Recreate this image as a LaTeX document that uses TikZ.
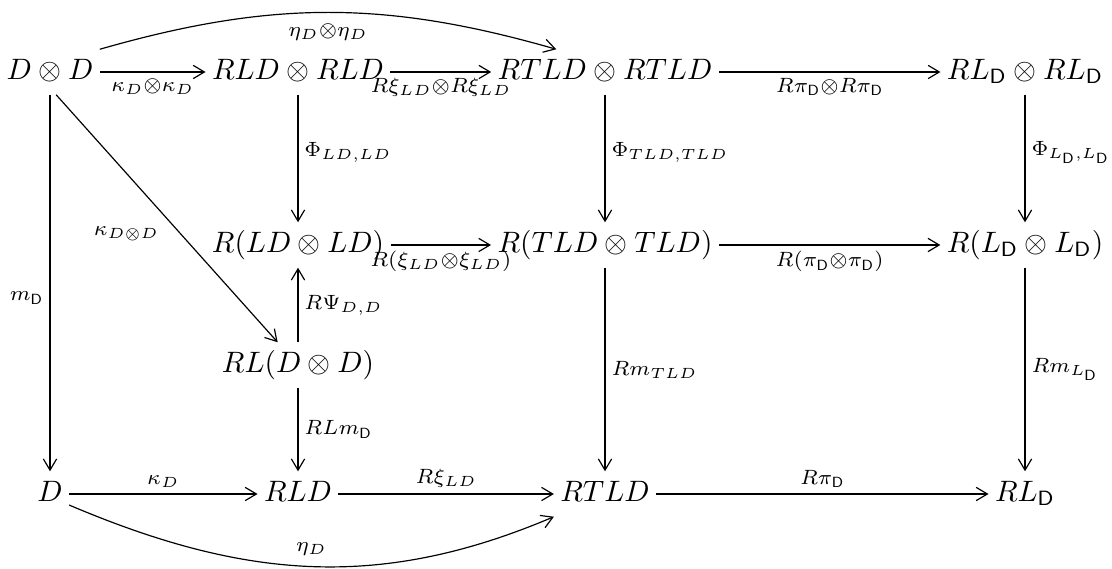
\documentclass[tikz,border=0pt]{standalone}
\usetikzlibrary{arrows.meta}
\newcommand\lbtx[1]{$\scriptstyle #1$}
\begin{document}
\begin{tikzpicture}[x=0.339pt,y=0.339pt,
  obj/.style={inner xsep=2pt,inner ysep=2.5pt,text height=7.5pt,text depth=2.5pt},
  arr/.style={line width=0.4pt,-{Straight Barb[length=3.8pt,width=4.5pt]}},
  lbl/.style={inner sep=2pt}]
\useasboundingbox (0,0) rectangle (1112,569);
% objects
\node[obj] (A)  at (50,497)   {$D\otimes D$};
\node[obj] (B)  at (298,497)  {$RLD\otimes RLD$};
\node[obj] (C)  at (605,497)  {$RTLD\otimes RTLD$};
\node[obj] (Dd) at (1025,497) {$RL_{\mathsf{D}}\otimes RL_{\mathsf{D}}$};
\node[obj] (E)  at (298,324)  {$R(LD\otimes LD)$};
\node[obj] (F)  at (605,324)  {$R(TLD\otimes TLD)$};
\node[obj] (G)  at (1025,324) {$R(L_{\mathsf{D}}\otimes L_{\mathsf{D}})$};
\node[obj] (H)  at (298,204)  {$RL(D\otimes D)$};
\node[obj] (I)  at (50,75)    {$D$};
\node[obj] (J)  at (298,75)   {$RLD$};
\node[obj] (K)  at (605,75)   {$RTLD$};
\node[obj] (M)  at (1025,75)  {$RL_{\mathsf{D}}$};
% row 1
\draw[arr] (A) -- node[lbl,below] {\lbtx{\kappa_D\otimes\kappa_D}} (B);
\draw[arr] (B) -- node[lbl,below] {\lbtx{R\xi_{LD}\otimes R\xi_{LD}}} (C);
\draw[arr] (C) -- node[lbl,below] {\lbtx{R\pi_{\mathsf{D}}\otimes R\pi_{\mathsf{D}}}} (Dd);
\draw[arr] (A.north east) to[out=16,in=164] node[lbl,below,inner sep=3.5pt] {\lbtx{\eta_D\otimes\eta_D}} (C.155);
% row 2
\draw[arr] (E) -- node[lbl,below] {\lbtx{R(\xi_{LD}\otimes\xi_{LD})}} (F);
\draw[arr] (F) -- node[lbl,below] {\lbtx{R(\pi_{\mathsf{D}}\otimes\pi_{\mathsf{D}})}} (G);
% verticals
\draw[arr] (B) -- node[lbl,right,pos=0.45] {\lbtx{\Phi_{LD,LD}}} (E);
\draw[arr] (C) -- node[lbl,right,pos=0.45] {\lbtx{\Phi_{TLD,TLD}}} (F);
\draw[arr] (Dd) -- node[lbl,right,pos=0.45] {\lbtx{\Phi_{L_{\mathsf{D}},L_{\mathsf{D}}}}} (G);
\draw[arr] (H) -- node[lbl,right] {\lbtx{R\Psi_{D,D}}} (E);
\draw[arr] (H) -- node[lbl,right] {\lbtx{RLm_{\mathsf{D}}}} (J);
\draw[arr] (F) -- node[lbl,right] {\lbtx{Rm_{TLD}}} (K);
\draw[arr] (G) -- node[lbl,right] {\lbtx{Rm_{L_{\mathsf{D}}}}} (M);
\draw[arr] (A) -- node[lbl,left,pos=0.54] {\lbtx{m_{\mathsf{D}}}} (I);
\draw[arr] (A.-75) -- node[lbl,below left,pos=0.5,inner sep=2.5pt] {\lbtx{\kappa_{D\otimes D}}} (H);
% row 4
\draw[arr] (I) -- node[lbl,above] {\lbtx{\kappa_D}} (J);
\draw[arr] (J) -- node[lbl,above] {\lbtx{R\xi_{LD}}} (K);
\draw[arr] (K) -- node[lbl,above] {\lbtx{R\pi_{\mathsf{D}}}} (M);
\draw[arr] (I.-30) to[out=-23,in=203] node[lbl,above,inner sep=3.5pt] {\lbtx{\eta_D}} (K.south west);
\end{tikzpicture}
\end{document}
